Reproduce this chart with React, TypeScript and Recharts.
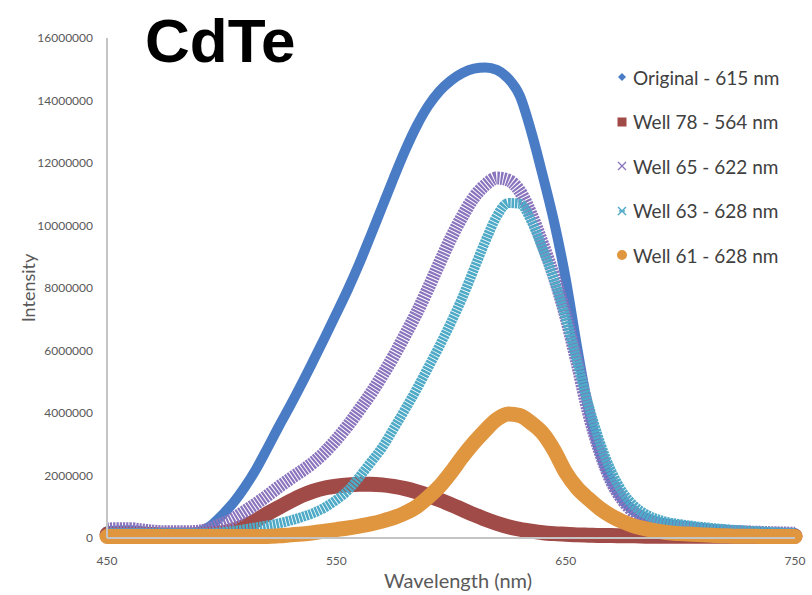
import { LineChart, Line, XAxis, YAxis } from "recharts";

// wavelength grid (nm) read every 5 nm
const wavelengths = [
  450, 455, 460, 465, 470, 475, 480, 485, 490, 495,
  500, 505, 510, 515, 520, 525, 530, 535, 540, 545,
  550, 555, 560, 565, 570, 575, 580, 585, 590, 595,
  600, 605, 610, 615, 620, 625, 630, 635, 640, 645,
  650, 655, 660, 665, 670, 675, 680, 685, 690, 695,
  700, 705, 710, 715, 720, 725, 730, 735, 740, 745,
  750,
];

// intensities in millions
const original = [
  0.22, 0.24, 0.25, 0.22, 0.18, 0.15, 0.14, 0.15, 0.2, 0.38,
  0.72, 1.12, 1.62, 2.2, 2.88, 3.58, 4.25, 4.95, 5.68, 6.42,
  7.18, 7.95, 8.78, 9.68, 10.6, 11.52, 12.4, 13.18, 13.82, 14.3,
  14.64, 14.88, 15.02, 15.06, 14.98, 14.7, 14.15, 13.0, 11.6, 10.1,
  8.3, 6.1, 4.1, 2.7, 1.8, 1.2, 0.85, 0.65, 0.52, 0.45,
  0.4, 0.36, 0.32, 0.29, 0.26, 0.24, 0.22, 0.2, 0.18, 0.17,
  0.16,
];

const well78 = [
  0.12, 0.12, 0.12, 0.12, 0.11, 0.1, 0.1, 0.1, 0.1, 0.12,
  0.16, 0.24, 0.38, 0.56, 0.78, 0.98, 1.18, 1.36, 1.5, 1.6,
  1.66, 1.7, 1.72, 1.72, 1.7, 1.65, 1.58, 1.48, 1.36, 1.22,
  1.07, 0.91, 0.75, 0.6, 0.47, 0.36, 0.28, 0.22, 0.17, 0.14,
  0.12, 0.1, 0.09, 0.08, 0.08, 0.07, 0.07, 0.06, 0.06, 0.06,
  0.06, 0.06, 0.06, 0.06, 0.06, 0.06, 0.06, 0.06, 0.06, 0.06,
  0.06,
];

const well65 = [
  0.28, 0.3, 0.3, 0.26, 0.22, 0.2, 0.2, 0.2, 0.22, 0.3,
  0.45, 0.62, 0.85, 1.1, 1.36, 1.64, 1.9, 2.15, 2.42, 2.75,
  3.15, 3.6, 4.1, 4.62, 5.2, 5.82, 6.5, 7.2, 7.98, 8.8,
  9.6, 10.3, 10.9, 11.3, 11.52, 11.45, 11.1, 10.35, 9.4, 8.35,
  7.1, 5.6, 4.0, 2.75, 1.8, 1.2, 0.8, 0.55, 0.42, 0.35,
  0.3, 0.27, 0.25, 0.23, 0.21, 0.2, 0.19, 0.18, 0.17, 0.16,
  0.15,
];

const well63 = [
  0.15, 0.15, 0.15, 0.15, 0.15, 0.15, 0.15, 0.15, 0.15, 0.15,
  0.18, 0.22, 0.28, 0.34, 0.4, 0.47, 0.56, 0.67, 0.8, 0.98,
  1.22, 1.52, 1.95, 2.42, 2.9, 3.5, 4.12, 4.76, 5.45, 6.15,
  6.9, 7.7, 8.6, 9.5, 10.3, 10.72, 10.7, 10.15, 9.25, 8.25,
  7.05, 5.65, 4.25, 3.05, 2.12, 1.45, 1.02, 0.76, 0.6, 0.5,
  0.44, 0.39, 0.35, 0.31, 0.28, 0.25, 0.23, 0.21, 0.19, 0.17,
  0.16,
];

const well61 = [
  0.05, 0.05, 0.05, 0.05, 0.05, 0.05, 0.05, 0.05, 0.05, 0.05,
  0.05, 0.05, 0.05, 0.05, 0.05, 0.07, 0.1, 0.13, 0.17, 0.22,
  0.27, 0.32, 0.38, 0.45, 0.54, 0.65, 0.8, 1.0, 1.3, 1.65,
  2.1, 2.6, 3.05, 3.45, 3.8, 3.97, 3.92, 3.68, 3.35, 2.8,
  2.1, 1.6, 1.25, 0.94, 0.7, 0.52, 0.38, 0.29, 0.22, 0.17,
  0.14, 0.12, 0.1, 0.08, 0.07, 0.06, 0.06, 0.05, 0.05, 0.05,
  0.05,
];

const yTicks = [0, 2000000, 4000000, 6000000, 8000000, 10000000, 12000000, 14000000, 16000000];
const xTicks = [450, 550, 650, 750];

const MILLION = 1000000;

const data = wavelengths.map((w, i) => ({
  wavelength: w,
  original: original[i] * MILLION,
  well78: well78[i] * MILLION,
  well65: well65[i] * MILLION,
  well63: well63[i] * MILLION,
  well61: well61[i] * MILLION,
}));

// purple and teal were plotted with x / star markers, so give them a hatched band
const series = [
  { key: "original", name: "Original - 615 nm", color: "#4a7cc6", width: 10, dash: undefined, marker: "diamond" },
  { key: "well78", name: "Well 78 - 564 nm", color: "#a04b48", width: 15, dash: undefined, marker: "square" },
  { key: "well65", name: "Well 65 - 622 nm", color: "#8a74bd", width: 13, dash: "2.2 1", marker: "x" },
  { key: "well63", name: "Well 63 - 628 nm", color: "#4eaac6", width: 10, dash: "2.6 0.8", marker: "star" },
  { key: "well61", name: "Well 61 - 628 nm", color: "#e0953f", width: 15, dash: undefined, marker: "circle" },
];

const FONT = "Lato, 'Liberation Sans', sans-serif";

function Marker({ kind, color }: { kind: string; color: string }) {
  return (
    <svg width={12} height={12} viewBox="0 0 12 12" style={{ display: "block" }}>
      {kind === "diamond" && <polygon points="6,2 10,6 6,10 2,6" fill={color} />}
      {kind === "square" && <rect x={1.5} y={1.5} width={9} height={9} fill={color} />}
      {kind === "x" && (
        <g stroke={color} strokeWidth={1.2}>
          <line x1={2} y1={2} x2={10} y2={10} />
          <line x1={10} y1={2} x2={2} y2={10} />
        </g>
      )}
      {kind === "star" && (
        <g stroke={color} strokeWidth={1.4}>
          <line x1={2} y1={2} x2={10} y2={10} />
          <line x1={10} y1={2} x2={2} y2={10} />
          <line x1={3} y1={6} x2={9} y2={6} />
        </g>
      )}
      {kind === "circle" && <circle cx={6} cy={6} r={5} fill={color} />}
    </svg>
  );
}

function ChartLegend() {
  return (
    <div style={{ position: "absolute", left: 612, top: 55, fontFamily: FONT, zIndex: 2 }}>
      {series.map((s) => (
        <div key={s.key} style={{ height: 44.5, display: "flex", alignItems: "center" }}>
          <div style={{ width: 20, display: "flex", justifyContent: "center" }}>
            <Marker kind={s.marker} color={s.color} />
          </div>
          <span style={{ fontSize: 19, color: "#404040", marginLeft: 1, whiteSpace: "nowrap" }}>{s.name}</span>
        </div>
      ))}
    </div>
  );
}

export default function App() {
  return (
    <div style={{ position: "absolute", left: 0, top: 0, width: 812, height: 595, background: "#fff", overflow: "hidden" }}>
      <div
        style={{
          position: "absolute",
          left: 145,
          top: 10,
          fontFamily: "'Liberation Sans', Arial, sans-serif",
          fontWeight: 700,
          fontSize: 62,
          lineHeight: "62px",
          color: "#000",
          zIndex: 2,
        }}
      >
        CdTe
      </div>
      <ChartLegend />
      <LineChart width={812} height={595} data={data} margin={{ top: 38, right: 17, left: 0, bottom: 27 }}>
        <XAxis
          dataKey="wavelength"
          type="number"
          domain={[450, 750]}
          ticks={xTicks}
          tickLine={false}
          axisLine={{ stroke: "#c4c4c4", strokeWidth: 2 }}
          tick={{ fontSize: 12, fill: "#595959", fontFamily: FONT }}
          tickMargin={12}
          height={30}
          label={{
            value: "Wavelength (nm)",
            content: (props: any) => {
              const vb = props.viewBox;
              return (
                <text
                  x={vb.x + vb.width / 2 + 7}
                  y={580}
                  textAnchor="middle"
                  dominantBaseline="central"
                  fontFamily={FONT}
                  fontSize={20}
                  fill="#595959"
                >
                  Wavelength (nm)
                </text>
              );
            },
          }}
        />
        <YAxis
          type="number"
          domain={[0, 16000000]}
          ticks={yTicks}
          tickLine={false}
          axisLine={{ stroke: "#c4c4c4", strokeWidth: 2 }}
          tick={{ fontSize: 12, fill: "#595959", fontFamily: FONT }}
          tickMargin={8}
          width={107}
          label={{
            value: "Intensity",
            content: (props: any) => {
              const vb = props.viewBox;
              const cx = 28;
              const cy = vb.y + vb.height / 2;
              return (
                <text
                  x={cx}
                  y={cy}
                  transform={`rotate(-90 ${cx} ${cy})`}
                  textAnchor="middle"
                  dominantBaseline="central"
                  fontFamily={FONT}
                  fontSize={18}
                  fill="#595959"
                >
                  Intensity
                </text>
              );
            },
          }}
        />
        {series.map((s) => (
          <Line
            key={s.key}
            dataKey={s.key}
            name={s.name}
            type="monotone"
            stroke={s.color}
            strokeWidth={s.width}
            strokeDasharray={s.dash}
            strokeLinecap={s.dash ? "butt" : "round"}
            strokeLinejoin="round"
            dot={false}
            activeDot={false}
            isAnimationActive={false}
          />
        ))}
      </LineChart>
    </div>
  );
}
